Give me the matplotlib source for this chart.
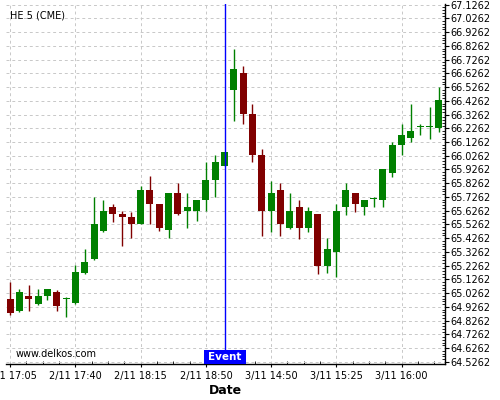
import numpy as np
import matplotlib.pyplot as plt
import matplotlib.transforms as mtransforms
from matplotlib.patches import Rectangle
from matplotlib.ticker import FixedLocator

# hora de cada vela (5 min)
times = ['2/11 17:05', '2/11 17:10', '2/11 17:15', '2/11 17:20', '2/11 17:25', '2/11 17:30',
         '2/11 17:35', '2/11 17:40', '2/11 17:45', '2/11 17:50', '2/11 17:55', '2/11 18:00',
         '2/11 18:05', '2/11 18:10', '2/11 18:15', '2/11 18:20', '2/11 18:25', '2/11 18:30',
         '2/11 18:35', '2/11 18:40', '2/11 18:45', '2/11 18:50', '2/11 18:55', '2/11 19:00',
         '3/11 14:30', '3/11 14:35', '3/11 14:40', '3/11 14:45', '3/11 14:50', '3/11 14:55',
         '3/11 15:00', '3/11 15:05', '3/11 15:10', '3/11 15:15', '3/11 15:20', '3/11 15:25',
         '3/11 15:30', '3/11 15:35', '3/11 15:40', '3/11 15:45', '3/11 15:50', '3/11 15:55',
         '3/11 16:00', '3/11 16:05', '3/11 16:10', '3/11 16:15', '3/11 16:20']

opens = [64.980, 64.899, 65.004, 64.950, 65.004, 65.031, 64.984, 64.953, 65.172, 65.274,
         65.480, 65.653, 65.602, 65.580, 65.529, 65.777, 65.675, 65.483, 65.755, 65.626,
         65.626, 65.704, 65.850, 65.954, 66.507, 66.629, 66.330, 66.032, 65.626, 65.777,
         65.500, 65.653, 65.500, 65.602, 65.223, 65.327, 65.653, 65.755, 65.653, 65.709,
         65.706, 65.903, 66.104, 66.158, 66.232, 66.232, 66.230]
highs = [65.107, 65.053, 65.082, 65.053, 65.053, 65.051, 65.000, 65.229, 65.345, 65.723,
         65.704, 65.672, 65.624, 65.619, 65.806, 65.879, 65.676, 65.757, 65.828, 65.752,
         65.706, 65.978, 66.029, 66.055, 66.801, 66.678, 66.401, 66.073, 65.845, 65.826,
         65.752, 65.704, 65.651, 65.604, 65.427, 65.675, 65.826, 65.757, 65.706, 65.723,
         65.931, 66.124, 66.255, 66.403, 66.260, 66.379, 66.529]
lows = [64.868, 64.892, 64.894, 64.938, 64.975, 64.894, 64.853, 64.950, 65.168, 65.269,
        65.473, 65.546, 65.371, 65.425, 65.527, 65.529, 65.478, 65.425, 65.597, 65.498,
        65.549, 65.626, 65.723, 65.952, 66.277, 66.255, 65.978, 65.439, 65.473, 65.439,
        65.493, 65.422, 65.471, 65.167, 65.170, 65.145, 65.597, 65.619, 65.597, 65.653,
        65.651, 65.874, 66.029, 66.124, 66.177, 66.150, 66.201]
closes = [64.880, 65.034, 64.980, 65.002, 65.053, 64.929, 64.992, 65.180, 65.252, 65.529,
          65.624, 65.604, 65.582, 65.529, 65.777, 65.677, 65.502, 65.755, 65.604, 65.651,
          65.704, 65.850, 65.980, 66.053, 66.658, 66.332, 66.034, 65.626, 65.755, 65.531,
          65.624, 65.500, 65.624, 65.223, 65.347, 65.624, 65.777, 65.675, 65.704, 65.717,
          65.929, 66.104, 66.177, 66.206, 66.240, 66.240, 66.432]

event_time = '2/11 19:00'
titulo = 'HE 5 (CME)'

x = np.arange(len(times))
o = np.array(opens)
c = np.array(closes)
colores = np.where(c >= o, '#008000', '#800000')

fig = plt.figure(figsize=(5, 4), dpi=100)
ax = fig.add_axes([0.011, 0.089, 0.878, 0.901])

# velas
ax.vlines(x, lows, highs, colors=colores, lw=1.0, zorder=2)
ax.bar(x, np.abs(c - o), bottom=np.minimum(o, c), width=0.75, color=colores, lw=0, zorder=3)

# evento
ie = times.index(event_time)
ax.axvline(ie, color='#0000ff', lw=1.0, zorder=4)
trans = mtransforms.blended_transform_factory(ax.transData, ax.transAxes)
ax.add_patch(Rectangle((ie - 2.25, 0), 4.5, 0.039, transform=trans,
                       facecolor='#0000ff', edgecolor='none', zorder=5, clip_on=False))
ax.text(ie, 0.0195, 'Event', transform=trans, ha='center', va='center',
        color='white', fontsize=7.5, fontweight='bold', zorder=6)

ax.set_xlim(-0.5, 46.6)
ax.set_ylim(64.507, 67.131)

# ejes
ax.yaxis.tick_right()
yt = 64.5262 + 0.1 * np.arange(27)
ax.set_yticks(yt)
ax.set_yticklabels(['%.4f' % v for v in yt])
ax.yaxis.set_minor_locator(FixedLocator(64.5262 + 0.02 * np.arange(131)))
xt = x[::7]
ax.set_xticks(xt)
ax.set_xticklabels([times[i] for i in xt])
ax.xaxis.set_minor_locator(FixedLocator(np.arange(0, 47, 1.75)))

ax.tick_params(axis='both', which='major', labelsize=7, length=3, width=0.8, direction='out')
ax.tick_params(axis='y', which='major', pad=1)
ax.tick_params(axis='x', which='major', pad=2.5, length=2.5)
ax.tick_params(axis='both', which='minor', length=2, width=0.6, direction='in')

for s in ['left', 'top']:
    ax.spines[s].set_visible(False)
ax.spines['right'].set_linewidth(1.0)
ax.spines['bottom'].set_linewidth(1.0)

ax.grid(True, which='major', color='#c8c8c8', linestyle=(0, (3, 3)), lw=0.7, zorder=0)
ax.set_axisbelow(True)

ax.text(0.0103, 0.968, titulo, transform=ax.transAxes, fontsize=7, va='center', ha='left')
ax.text(0.022, 0.029, 'www.delkos.com', transform=ax.transAxes, fontsize=7, va='center', ha='left')
fig.text(0.45, 0.025, 'Date', fontsize=9, fontweight='bold', ha='center', va='center')

fig.savefig('out.png', dpi=100)
